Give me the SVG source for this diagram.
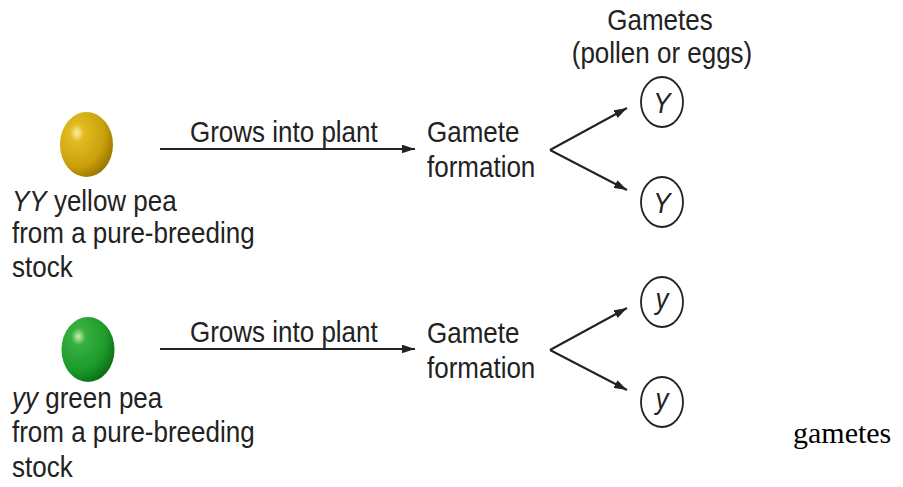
<svg xmlns="http://www.w3.org/2000/svg" width="903" height="487" viewBox="0 0 903 487">
<defs>
<style>
.t{font-family:"Liberation Sans",Arial,sans-serif;font-size:26px;fill:#222}
.c{text-anchor:middle}
.i{font-style:italic}
.ln{stroke:#222;stroke-width:2;fill:none}
.gc{fill:#fff;stroke:#222;stroke-width:1.8}
.tm{font-family:"Liberation Serif","Times New Roman",serif;font-size:30px;fill:#000}
</style>
<marker id="ah" viewBox="0 0 12 8" refX="12" refY="4" markerWidth="13" markerHeight="9" markerUnits="userSpaceOnUse" orient="auto">
<path d="M0,0 L12,4 L0,8 Z" fill="#222"/>
</marker>
<radialGradient id="gy" cx="0.32" cy="0.32" r="0.75">
<stop offset="0" stop-color="#fbeea0"/>
<stop offset="0.18" stop-color="#e2bb22"/>
<stop offset="0.7" stop-color="#c9a00a"/>
<stop offset="1" stop-color="#9a7400"/>
</radialGradient>
<radialGradient id="gg" cx="0.32" cy="0.3" r="0.75">
<stop offset="0" stop-color="#c8efb0"/>
<stop offset="0.18" stop-color="#38b040"/>
<stop offset="0.7" stop-color="#1b9a2a"/>
<stop offset="1" stop-color="#0c6f18"/>
</radialGradient>
</defs>
<rect width="903" height="487" fill="#fff"/>

<g id="pea-yellow">
<ellipse cx="86.5" cy="144.5" rx="26.5" ry="32.5" fill="url(#gy)"/>
<text class="t" transform="translate(12,211) scale(1,1.15)"><tspan class="i">YY</tspan> yellow pea</text>
<text class="t" transform="translate(12,243) scale(1,1.15)">from a pure-breeding</text>
<text class="t" transform="translate(12,277) scale(1,1.15)">stock</text>
</g>

<g id="pea-green">
<ellipse cx="88" cy="349.5" rx="26.5" ry="32.5" fill="url(#gg)"/>
<text class="t" transform="translate(12,408) scale(1,1.15)"><tspan class="i">yy</tspan> green pea</text>
<text class="t" transform="translate(12,442) scale(1,1.15)">from a pure-breeding</text>
<text class="t" transform="translate(12,477) scale(1,1.15)">stock</text>
</g>

<g id="formation-top">
<text class="t" transform="translate(427,142) scale(1,1.15)">Gamete</text>
<text class="t" transform="translate(427,177) scale(1,1.15)">formation</text>
</g>

<g id="formation-bottom">
<text class="t" transform="translate(427,343) scale(1,1.15)">Gamete</text>
<text class="t" transform="translate(427,378) scale(1,1.15)">formation</text>
</g>

<g id="gametes-header">
<text class="t c" transform="translate(660,30) scale(1,1.15)">Gametes</text>
<text class="t c" transform="translate(662,63) scale(1,1.15)">(pollen or eggs)</text>
</g>

<g id="gamete-Y1">
<ellipse class="gc" cx="662" cy="102" rx="21" ry="25"/>
<text class="t c i" transform="translate(662,113) scale(1,1.15)">Y</text>
</g>
<g id="gamete-Y2">
<ellipse class="gc" cx="662" cy="202" rx="21" ry="25"/>
<text class="t c i" transform="translate(662,213) scale(1,1.15)">Y</text>
</g>
<g id="gamete-y1">
<ellipse class="gc" cx="662" cy="302" rx="21" ry="25"/>
<text class="t c i" transform="translate(662,309) scale(1,1.15)">y</text>
</g>
<g id="gamete-y2">
<ellipse class="gc" cx="662" cy="402" rx="21" ry="25"/>
<text class="t c i" transform="translate(662,409) scale(1,1.15)">y</text>
</g>

<g id="connectors">
<line class="ln" x1="160" y1="149" x2="415" y2="149" marker-end="url(#ah)"/>
<text class="t" transform="translate(190,142) scale(1,1.15)">Grows into plant</text>
<line class="ln" x1="160" y1="349" x2="415" y2="349" marker-end="url(#ah)"/>
<text class="t" transform="translate(190,342) scale(1,1.15)">Grows into plant</text>
<line class="ln" x1="550" y1="150" x2="627" y2="108" marker-end="url(#ah)"/>
<line class="ln" x1="550" y1="150" x2="627" y2="190" marker-end="url(#ah)"/>
<line class="ln" x1="550" y1="350" x2="627" y2="308" marker-end="url(#ah)"/>
<line class="ln" x1="550" y1="350" x2="627" y2="390" marker-end="url(#ah)"/>
</g>

<text class="tm" x="793" y="443">gametes</text>
</svg>
